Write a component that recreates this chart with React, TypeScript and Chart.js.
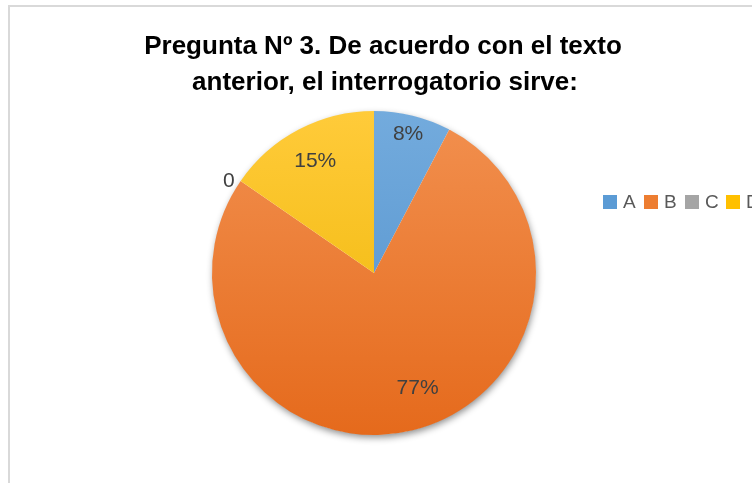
import React, { useEffect, useRef } from "react";
import { Chart, registerables } from "chart.js";

Chart.register(...registerables);

const titleLines = ["Pregunta Nº 3. De acuerdo con el texto", "anterior, el interrogatorio sirve:"];
const categories = ["A", "B", "C", "D"];
const values = [3, 30, 0, 6];
const baseColors = ["#5B9BD5", "#ED7D31", "#A5A5A5", "#FFC000"];
const topColors = ["#73ABDD", "#F2904F", "#B5B5B5", "#FFCB3A"];
const bottomColors = ["#4F8FCB", "#E56A1C", "#979797", "#EDB400"];

const total = values.reduce((a, b) => a + b, 0);
const labelText = values.map((v) => (v === 0 ? "0" : Math.round((v / total) * 100) + "%"));
const labelRadial = [0.88, 0.76, 1.06, 0.78];
const labelAngleShift = [0, -0.12, -0.04, 0];

const decorPlugin = {
  id: "decor",
  beforeDraw(chart: any) {
    const ctx = chart.ctx;
    ctx.save();
    ctx.fillStyle = "#ffffff";
    ctx.fillRect(0, 0, chart.width, chart.height);
    ctx.strokeStyle = "#D9D9D9";
    ctx.lineWidth = 2;
    ctx.strokeRect(9, 6, chart.width + 20, chart.height + 20);
    // title
    ctx.fillStyle = "#000000";
    ctx.font = "bold 26px 'Liberation Sans Narrow', 'Liberation Sans', sans-serif";
    ctx.textAlign = "center";
    ctx.textBaseline = "middle";
    ctx.fillText(titleLines[0], 383, 47);
    ctx.fillText(titleLines[1], 385, 83);
    // legend
    ctx.font = "19px 'Liberation Sans', sans-serif";
    ctx.textAlign = "left";
    let x = 603;
    const y = 202;
    categories.forEach((c, i) => {
      ctx.fillStyle = baseColors[i];
      ctx.fillRect(x, y - 7, 14, 14);
      ctx.fillStyle = "#595959";
      ctx.fillText(c, x + 20, y + 1);
      x += 41;
    });
    ctx.restore();
  },
  beforeDatasetsDraw(chart: any) {
    const meta = chart.getDatasetMeta(0);
    const arc = meta.data[0];
    if (!arc) return;
    const ctx = chart.ctx;
    ctx.save();
    ctx.shadowColor = "rgba(0,0,0,0.45)";
    ctx.shadowBlur = 7;
    ctx.shadowOffsetX = 1;
    ctx.shadowOffsetY = 3;
    ctx.fillStyle = "#ffffff";
    ctx.beginPath();
    ctx.arc(arc.x, arc.y, arc.outerRadius - 0.5, 0, Math.PI * 2);
    ctx.fill();
    ctx.restore();
  },
  afterDatasetsDraw(chart: any) {
    const meta = chart.getDatasetMeta(0);
    const ctx = chart.ctx;
    ctx.save();
    ctx.font = "21px 'Liberation Sans', sans-serif";
    ctx.fillStyle = "#404040";
    ctx.textAlign = "center";
    ctx.textBaseline = "middle";
    meta.data.forEach((el: any, i: number) => {
      const mid = (el.startAngle + el.endAngle) / 2 + labelAngleShift[i];
      const r = el.outerRadius * labelRadial[i];
      ctx.fillText(labelText[i], el.x + Math.cos(mid) * r, el.y + Math.sin(mid) * r);
    });
    ctx.restore();
  },
};

export default function App() {
  const ref = useRef<HTMLCanvasElement>(null);
  useEffect(() => {
    if (!ref.current) return;
    const chart = new Chart(ref.current, {
      type: "pie",
      data: {
        labels: categories,
        datasets: [
          {
            data: values,
            backgroundColor: (c: any) => {
              const i = c.dataIndex;
              const area = c.chart.chartArea;
              if (!area) return baseColors[i];
              const g = c.chart.ctx.createLinearGradient(0, area.top, 0, area.bottom);
              g.addColorStop(0, topColors[i]);
              g.addColorStop(1, bottomColors[i]);
              return g;
            },
            borderWidth: 0,
          },
        ],
      },
      options: {
        responsive: false,
        animation: false,
        layout: { padding: { top: 111, bottom: 48, left: 212, right: 216 } },
        plugins: {
          legend: { display: false },
          title: { display: false },
          tooltip: { enabled: false },
        },
      },
      plugins: [decorPlugin],
    });
    return () => chart.destroy();
  }, []);
  return (
    <div style={{ position: "fixed", left: 0, top: 0, width: 752, height: 483 }}>
      <canvas ref={ref} width={752} height={483} style={{ display: "block" }} />
    </div>
  );
}
